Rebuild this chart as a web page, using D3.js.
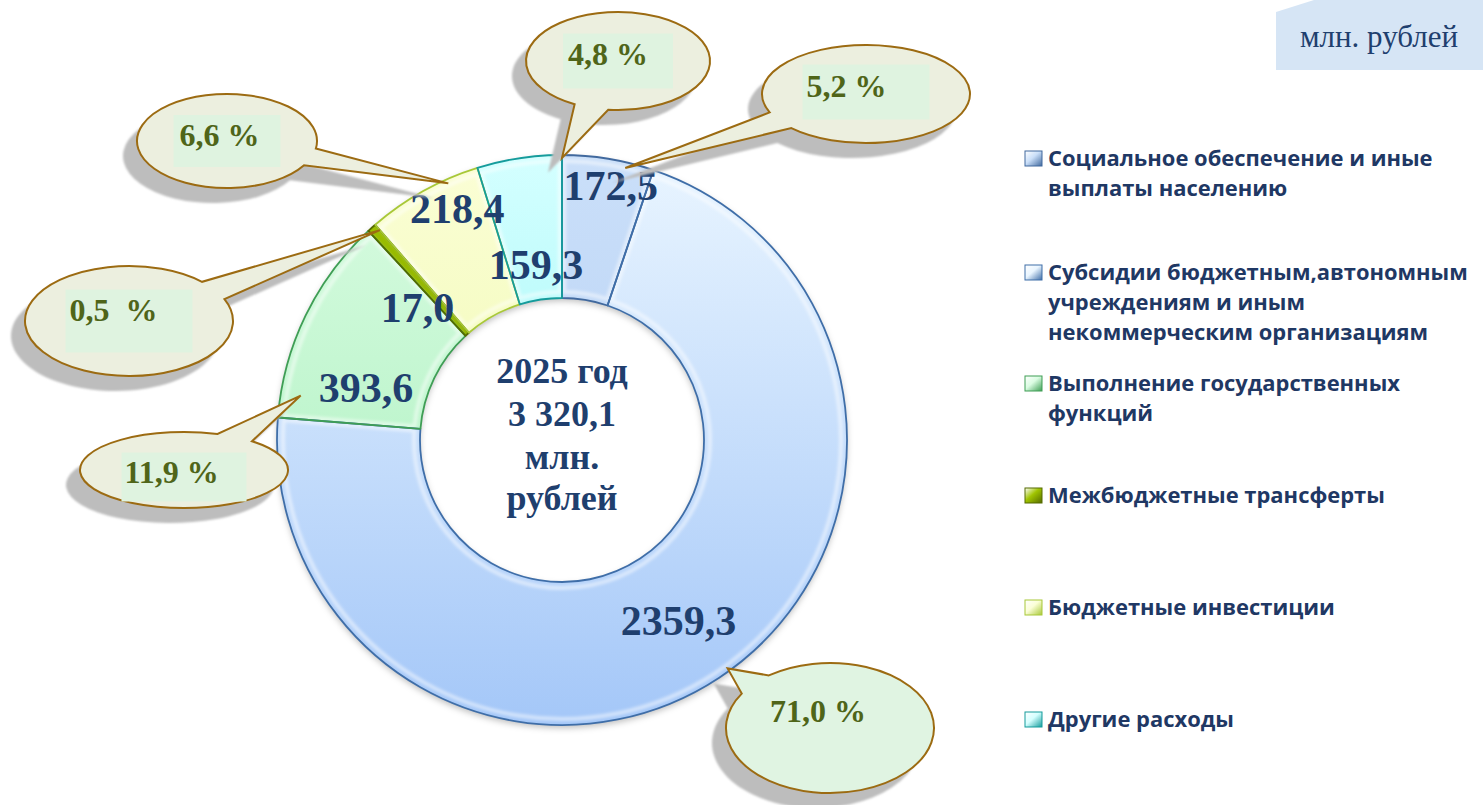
<!DOCTYPE html>
<html><head><meta charset="utf-8">
<script src="https://cdn.jsdelivr.net/npm/d3@7"></script>
<style>body{margin:0;background:#fff;} svg{display:block}</style>
</head><body><svg id="c" width="1483" height="805"></svg>
<script>
// ---- data ----
const categories = [
  "Социальное обеспечение и иные выплаты населению",
  "Субсидии бюджетным,автономным учреждениям и иным некоммерческим организациям",
  "Выполнение государственных функций",
  "Межбюджетные трансферты",
  "Бюджетные инвестиции",
  "Другие расходы"
];
const legendLines = [
  ["Социальное обеспечение и иные", "выплаты населению"],
  ["Субсидии бюджетным,автономным", "учреждениям и иным", "некоммерческим организациям"],
  ["Выполнение государственных", "функций"],
  ["Межбюджетные трансферты"],
  ["Бюджетные инвестиции"],
  ["Другие расходы"]
];
const values = [172.5, 2359.3, 393.6, 17.0, 218.4, 159.3];
const valueLabels = ["172,5", "2359,3", "393,6", "17,0", "218,4", "159,3"];
const percentLabels = ["5,2 %", "71,0 %", "11,9 %", "0,5  %", "6,6 %", "4,8 %"];
const centerLines = ["2025 год", "3 320,1", "млн.", "рублей"];
const unitLabel = "млн. рублей";

// ---- styles / layout ----
const colors = [
  ["#cadff9", "#b0ccf3", "#41699e"],
  ["#e9f5ff", "#a4c7f8", "#3f6ea8"],
  ["#dafce2", "#a2eeb8", "#3f9e55"],
  ["#a0c400", "#6e8c00", "#556b00"],
  ["#fbfed6", "#eaf79e", "#a8c838"],
  ["#d4ffff", "#84f2f2", "#159c9c"]
];
const cx = 562, cy = 440, R = 285, r0 = 142;
const labelOffsets = [[14,-29],[-1,17],[-4,55],[-2,41],[-1,-30],[6,50]];
const tips = [[0.7,0.98],[0.49,0.99],[0.12,0.93],[1.0,0.975],[0.72,0.985],[1.0,0.99]];
// bubble: cx, cy, rx, ry, rect w, rect h, rect dy, text dx(from rect left), text dy(from cy), has rect
const bubbles = [
  [866, 94, 104, 49, 127, 55, -2, 4, 3, true],
  [830, 728, 104, 65, 0, 0, 0, 0, -6, false],
  [184, 470, 104, 38, 125, 49, 7, 3, 13, true],
  [129, 321, 104, 55, 127, 63, 0, 4, 0, true],
  [227, 141, 90, 47, 107, 52, 0, 6, 5, true],
  [618, 61, 92, 49, 110, 55, 0, 5, 4, true]
];

const svg = d3.select("#c");
const defs = svg.append("defs");
colors.forEach((c, i) => {
  const g = defs.append("linearGradient").attr("id", "g" + i)
    .attr("gradientUnits", "userSpaceOnUse")
    .attr("x1", 0).attr("x2", 0).attr("y1", -R).attr("y2", R);
  g.append("stop").attr("offset", 0).attr("stop-color", c[0]);
  g.append("stop").attr("offset", 1).attr("stop-color", c[1]);
  const m = defs.append("linearGradient").attr("id", "m" + i)
    .attr("x1", 0).attr("x2", 1).attr("y1", 0).attr("y2", 1);
  m.append("stop").attr("offset", 0).attr("stop-color", "#ffffff");
  m.append("stop").attr("offset", 0.45).attr("stop-color", c[0]);
  m.append("stop").attr("offset", 1).attr("stop-color", c[2]);
});
const f = defs.append("filter").attr("id", "ds").attr("x", "-10%").attr("y", "-10%").attr("width", "120%").attr("height", "120%");
f.append("feDropShadow").attr("dx", 0).attr("dy", 3).attr("stdDeviation", 3).attr("flood-color", "#000").attr("flood-opacity", 0.25);
const sb = defs.append("filter").attr("id", "sb");
sb.append("feGaussianBlur").attr("stdDeviation", 1.5);
const sb2 = defs.append("filter").attr("id", "sb2");
sb2.append("feGaussianBlur").attr("stdDeviation", 0.8);

// unit box
svg.append("path")
  .attr("d", "M1276,12 L1314,0 L1483,0 L1483,70 L1276,70 Z")
  .attr("fill", "#d6e5f5");
svg.append("text").attr("x", 1379).attr("y", 47).attr("text-anchor", "middle")
  .attr("font-family", "Liberation Serif, serif").attr("font-size", 31).attr("fill", "#1f3f6e")
  .text(unitLabel);

// donut
const pie = d3.pie().sort(null).value(d => d).startAngle(0).endAngle(2 * Math.PI);
const arcs = pie(values);
const arc = d3.arc().innerRadius(r0).outerRadius(R);
const g = svg.append("g").attr("transform", `translate(${cx},${cy})`);
g.append("g").attr("filter", "url(#ds)").selectAll("path").data(arcs).join("path")
  .attr("d", arc).attr("fill", (d, i) => `url(#g${i})`);
// bevel highlight
const arcIn = d3.arc().innerRadius(r0 + 6).outerRadius(R - 6).padAngle(0.014);
g.append("g").selectAll("path").data(arcs.filter(d => d.endAngle - d.startAngle > 0.1)).join("path")
  .attr("d", arcIn).attr("fill", "none").attr("stroke", "#ffffff").attr("stroke-opacity", 0.5)
  .attr("stroke-width", 4).attr("filter", "url(#sb)");
// outlines on top
g.append("g").selectAll("path").data(arcs).join("path")
  .attr("d", arc).attr("fill", "none")
  .attr("stroke", (d, i) => colors[i][2]).attr("stroke-width", 1.8).attr("stroke-linejoin", "round");

// value labels
g.selectAll("text.v").data(arcs).join("text").attr("class", "v")
  .attr("x", (d, i) => arc.centroid(d)[0] + labelOffsets[i][0])
  .attr("y", (d, i) => arc.centroid(d)[1] + labelOffsets[i][1])
  .attr("text-anchor", "middle")
  .attr("font-family", "Liberation Serif, serif").attr("font-weight", "bold")
  .attr("font-size", 42).attr("fill", "#1f3f6e")
  .text((d, i) => valueLabels[i]);

// center text
const ctBase = [383, 426, 469, 510];
svg.selectAll("text.c").data(centerLines).join("text").attr("class", "c")
  .attr("x", cx).attr("y", (d, i) => ctBase[i]).attr("text-anchor", "middle")
  .attr("font-family", "Liberation Serif, serif").attr("font-weight", "bold")
  .attr("font-size", 36).attr("fill", "#1f3f6e").text(d => d);

// bubbles
function bubblePath(bx, by, rx, ry, tx, ty, delta) {
  const th = Math.atan2((ty - by) / ry, (tx - bx) / rx);
  const a1 = th - delta, a2 = th + delta;
  const A = [bx + rx * Math.cos(a1), by + ry * Math.sin(a1)];
  const B = [bx + rx * Math.cos(a2), by + ry * Math.sin(a2)];
  return `M${B[0]},${B[1]} A${rx},${ry} 0 1 1 ${A[0]},${A[1]} L${tx},${ty} Z`;
}
arcs.forEach((d, i) => {
  const [fr, rf] = tips[i];
  const a = d.startAngle + fr * (d.endAngle - d.startAngle);
  const tx = cx + rf * R * Math.sin(a), ty = cy - rf * R * Math.cos(a);
  const [bx, by, rx, ry, rw, rh, rdy, tdx, tdy, hasRect] = bubbles[i];
  const p = bubblePath(bx, by, rx, ry, tx, ty, 11 * Math.PI / 180);
  svg.append("path").attr("d", p).attr("transform", "translate(-14,15)")
    .attr("fill", "#bdbdbd").attr("filter", "url(#sb2)");
  svg.append("path").attr("d", p).attr("fill", hasRect ? "#ecefdf" : "#e0f4e2")
    .attr("stroke", "#9c6b12").attr("stroke-width", 2).attr("stroke-linejoin", "miter");
  let tx0;
  if (hasRect) {
    const rx0 = bx - rw / 2, ry0 = by + rdy - rh / 2;
    svg.append("rect").attr("x", rx0).attr("y", ry0).attr("width", rw).attr("height", rh).attr("fill", "#dff3e0");
    tx0 = rx0 + tdx;
  } else {
    tx0 = bx - 60;
  }
  svg.append("text").attr("x", tx0).attr("y", by + tdy)
    .attr("font-family", "Liberation Serif, serif").attr("font-weight", "bold")
    .attr("font-size", 32).attr("fill", "#4f6519").style("white-space", "pre")
    .text(percentLabels[i]);
});

// legend
const legBase = [166, 280, 391, 503, 615, 727];
const leg = svg.append("g");
const probe = leg.append("text").attr("font-family", "Open Sans, sans-serif").attr("font-weight", "bold")
  .attr("font-size", 20).text(legendLines[1][0]);
const fs = 20 * 420 / probe.node().getComputedTextLength();
probe.remove();
legendLines.forEach((lines, i) => {
  leg.append("rect").attr("x", 1025).attr("y", legBase[i] - 15).attr("width", 17).attr("height", 15)
    .attr("fill", `url(#m${i})`).attr("stroke", colors[i][2]).attr("stroke-width", 1);
  const t = leg.append("text").attr("font-family", "Open Sans, sans-serif").attr("font-weight", "bold")
    .attr("font-size", fs).attr("fill", "#1f3864");
  lines.forEach((l, j) => t.append("tspan").attr("x", 1048).attr("y", legBase[i] + j * 30).text(l));
});
</script>
</body></html>
